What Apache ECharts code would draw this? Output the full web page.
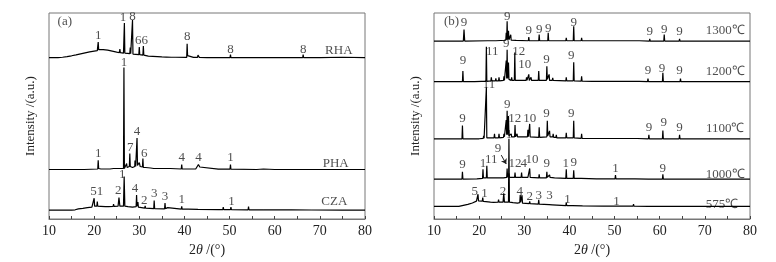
<!DOCTYPE html>
<html lang="en">
<head>
    <meta charset="UTF-8">
    <title>XRD</title>
    <script src="https://cdn.jsdelivr.net/npm/echarts@6/dist/echarts.min.js"></script>
    <style>
        body { margin: 0; background: #fff; }
    </style>
</head>
<body>
<div id="main" style="width: 776px;height: 262px"></div>
</body>

<script>
    // intensity values (arbitrary units, traces already offset)
    var xTicks = [10, 20, 30, 40, 50, 60, 70, 80];

    var rha = [[10,163],[10.3,163],[10.4,165],[10.5,163],[12,163],[13,163.3],[14,164],[15,164.8],[16,165.7],[17,166.7],[18,167.7],[19,168.7],[20,169.5],[20.7,170],[20.8,170.5],[20.9,178.7],[21.0,171],[21.2,170.7],[22,171],[23,170.5],[24,169.5],[25,168.5],[25.6,168],[25.7,171.5],[25.8,168],[26.5,167.5],[26.6,168],[26.7,198],[26.8,167.5],[27.2,167],[27.9,167],[28.0,173],[28.1,167],[28.4,167],[28.5,201],[28.6,166.5],[29,166],[29.9,166],[30.0,173.7],[30.1,166],[30.8,165.5],[30.9,174.7],[31.0,165.5],[31.5,165],[32,164.5],[33,164.3],[34,164],[35,163.7],[36,163.5],[37.1,163.3],[37.2,165],[37.3,163.3],[38,163.3],[40.5,163.2],[40.6,177],[40.7,165],[40.8,163.2],[42,163.2],[42.9,163.2],[43.0,165.5],[43.2,165],[43.3,163.2],[45,163],[50.1,163],[50.2,166],[50.3,163],[54.9,163],[55.0,165],[55.1,163],[60,163],[66.2,163],[66.3,166],[66.4,163],[70,163],[75,163.3],[80,163]];

    var pha = [[10,50],[12,50],[12.2,51],[12.4,50],[14,50],[17.8,50],[18,52],[18.2,50],[20.8,50.5],[20.9,59.3],[21.0,51],[21.3,50.5],[21.4,52],[21.5,50.5],[23,50.5],[23.3,52],[23.5,50.5],[24.3,51],[24.5,52.5],[24.7,51],[25.5,51],[25.7,53],[25.9,51],[26.5,51],[26.6,153],[26.7,51],[27.1,52],[27.2,56],[27.3,52],[27.8,53],[27.9,66],[28.0,53],[28.5,52],[29.0,53],[29.05,59],[29.2,53],[29.4,54],[29.5,81.7],[29.6,54],[29.8,53],[30.0,57],[30.2,53],[30.7,52.5],[30.8,61],[30.9,52],[31.4,52],[31.5,54],[31.6,51.5],[32.5,51.5],[33.2,51],[33.3,53],[33.4,51],[34.4,51],[34.5,52.5],[34.6,51],[36.3,51],[36.4,53],[36.5,51],[36.9,51],[37.0,53],[37.1,51],[39.3,50.5],[39.4,55],[39.5,50.5],[42.5,50.5],[42.8,52.5],[43.1,55],[43.4,52.5],[43.7,50.5],[47.5,50.3],[47.6,52],[47.7,50.3],[48.3,50.3],[48.4,52],[48.5,50.3],[50.1,50.3],[50.2,55],[50.3,50.3],[56,50],[57.5,50.5],[60,50],[60.1,51],[60.2,50],[64.5,50],[68,50],[68.2,51],[68.4,50],[75,50],[80,50]];

    var cza = [[10,9],[15,9],[15.8,9.3],[16.5,10.2],[17.5,10.8],[18.5,11.5],[19.5,12],[19.9,13],[20.0,21],[20.1,13],[20.6,13],[20.7,17.7],[20.8,13],[21.5,12.8],[22.5,12.5],[23.2,12.5],[23.3,14],[23.4,12.5],[24.2,12.8],[24.3,15],[24.4,12.8],[25.3,13],[25.5,21.7],[25.7,13],[26.5,13],[26.65,43],[26.8,13],[27.5,12.5],[28.5,12],[29.3,12.5],[29.4,24.3],[29.5,13],[29.6,13],[29.7,17],[29.8,12],[31.2,11],[31.3,13.3],[31.4,11],[33.2,10.5],[33.3,18.7],[33.4,10.5],[35.6,10.3],[35.7,16],[35.8,10.5],[36.2,10.5],[36.3,11.5],[36.4,10],[39.3,10],[39.4,12.7],[39.5,10],[40.8,10],[40.9,12],[41.0,10],[43,9.7],[43.1,10.5],[43.2,9.7],[47.5,9.5],[47.6,11],[47.7,9.5],[48.5,9.5],[48.6,12],[48.7,9.5],[49.3,9.5],[49.4,11.5],[49.5,9.5],[50.2,9.5],[50.3,12],[50.4,9.5],[54.1,9.3],[54.2,12.5],[54.3,9.3],[57.5,9.2],[57.6,10],[57.7,9.2],[62.5,9.2],[62.6,11],[62.7,9.2],[63.7,9.2],[63.8,11],[63.9,9.2],[68.1,9.1],[68.2,11],[68.3,9.1],[75,9],[80,9]];

    var t1300 = [[10,179.7],[16.5,179.7],[16.65,191.3],[16.8,179.7],[21.9,180],[22.0,182],[22.1,180],[23.7,180],[23.8,182],[23.9,180],[25.9,180.5],[26.0,188],[26.1,181],[26.2,199.7],[26.3,181],[26.5,190],[26.6,181],[26.9,181],[27.0,186],[27.1,180.5],[28.2,180.3],[28.3,182],[28.4,180.3],[30.9,180],[31.0,183.7],[31.1,180],[33.2,180],[33.3,186.3],[33.4,180],[35.2,180],[35.3,188],[35.4,180],[37.4,180],[37.5,182],[37.6,180],[39.2,180],[39.3,183],[39.4,180],[40.85,180],[40.95,194.7],[41.05,180],[42.6,180],[42.7,183],[42.8,180],[45.5,180],[45.6,181],[45.7,180],[48.5,180],[48.6,181],[48.7,180],[51.5,180],[51.6,181],[51.7,180],[55.5,180],[55.6,181],[55.7,180],[57.7,179.7],[57.8,182],[57.9,179.7],[60.9,179.7],[61.0,186.3],[61.1,179.7],[64.3,179.7],[64.4,182],[64.5,179.7],[70,179.7],[70.1,180.5],[70.2,179.7],[75,179.7],[75.1,180.5],[75.2,179.7],[80,179.7]];

    var t1200 = [[10,138.7],[13,138.7],[13.1,139.5],[13.2,138.7],[16.3,138.7],[16.4,149.3],[16.5,138.7],[19,138.7],[19.1,140],[19.2,138.7],[20.5,139],[20.6,141],[20.7,139],[21.5,139],[21.6,174],[21.7,139],[22.6,139.5],[22.7,143],[22.8,139.5],[23.6,139.5],[23.7,142],[23.8,139.5],[24.3,139.5],[24.4,143],[24.5,139.5],[25.4,140],[25.5,144],[25.6,140],[25.9,141],[26.0,160],[26.1,142],[26.2,171],[26.3,142],[26.5,158],[26.6,141],[27.1,140],[27.2,143],[27.3,140],[27.8,140],[27.9,168],[28.0,140],[28.3,140],[28.4,142],[28.5,140],[30.4,140],[30.5,143],[30.6,140],[30.9,140],[31.0,146],[31.1,140],[31.4,140],[31.5,143],[31.6,140],[33.1,140],[33.2,149.3],[33.3,140],[34.9,140],[35.0,154.3],[35.1,141],[35.4,141],[35.5,146],[35.6,140],[36.2,140],[36.3,142.5],[36.4,140],[39.2,139.5],[39.3,143],[39.4,139.5],[40.85,139.5],[40.95,158.3],[41.05,139.5],[42.6,139.2],[42.7,144],[42.8,139.2],[45,139],[45.1,140],[45.2,139],[48,139],[48.1,141],[48.2,139],[51,139],[51.1,140.5],[51.2,139],[52.3,139],[52.4,140.5],[52.5,139],[55.5,139],[55.6,140.5],[55.7,139],[57.3,138.7],[57.4,141.7],[57.5,138.7],[60.6,138.7],[60.7,147.7],[60.8,138.7],[64.5,138.7],[64.6,141.7],[64.7,138.7],[73.9,138.7],[74,140],[74.1,138.7],[74.4,138.7],[74.5,140],[74.6,138.7],[80,138.7]];

    var t1100 = [[10,81],[16.2,81],[16.3,94.3],[16.4,81],[20,81],[20.9,81.5],[21.0,84],[21.1,81.5],[21.5,82],[21.6,133],[21.7,82],[22.5,82],[22.6,84],[22.7,82],[23.3,82],[23.4,86],[23.5,82],[24.3,82],[24.4,86],[24.5,82],[25.4,82.5],[25.5,86],[25.6,83],[25.9,84],[26.0,100],[26.1,85],[26.2,109.3],[26.3,85],[26.5,104],[26.6,84],[27.0,83],[27.1,86],[27.2,83],[27.85,83],[27.95,95],[28.05,83],[28.3,83],[28.4,86],[28.5,83],[30.7,83],[30.8,90],[30.9,83],[31.1,83],[31.2,96],[31.3,83],[33.2,82.5],[33.3,92.7],[33.4,82.5],[35.0,83],[35.1,99.3],[35.2,84],[35.5,84],[35.6,89],[35.7,83],[36.3,83],[36.4,86],[36.5,82.5],[37,82.5],[37.1,85],[37.2,82],[39.2,82],[39.3,87],[39.4,82],[40.85,82],[40.95,99.3],[41.05,82],[42.6,81.5],[42.7,86],[42.8,81.5],[49,81.3],[49.1,83],[49.2,81.3],[51.5,81.3],[51.6,82.5],[51.7,81.3],[53.5,81.3],[53.6,83],[53.7,81.3],[55,81.3],[55.1,83],[55.2,81.3],[57.5,81],[57.6,85],[57.7,81],[60.6,81],[60.7,89.3],[60.8,81],[64.3,81],[64.4,85],[64.5,81],[71,81],[71.1,82],[71.2,81],[74.5,81],[74.6,82],[74.7,81],[80,81]];

    var t1000 = [[10,40.3],[16.2,40.3],[16.3,47.7],[16.4,40.3],[19.5,40.5],[20.75,41],[20.85,50.3],[20.95,41.5],[21.6,41.5],[21.7,53.7],[21.8,41.5],[22.5,41.5],[22.6,43],[22.7,41.5],[23.4,41.5],[23.5,43],[23.6,41.5],[24.4,41.5],[24.5,43.5],[24.6,41.5],[25.4,41.5],[25.5,43],[25.6,41.5],[26.1,42],[26.2,51],[26.3,42],[26.5,43],[26.6,46],[26.7,42],[27.85,42],[27.95,47],[28.05,42],[29.3,42],[29.4,47],[29.5,42],[30.8,42],[30.9,44],[31.0,42],[31.1,42],[31.2,51],[31.3,42],[33.2,41.5],[33.3,45],[33.4,41.5],[34.9,41.5],[35.0,47.7],[35.1,42],[35.5,42],[35.6,44.5],[35.7,42],[36.7,41.5],[36.8,43],[36.9,41.5],[39.2,41],[39.3,50.3],[39.4,41],[40.85,41],[40.95,49.3],[41.05,41],[42.6,41],[42.7,43],[42.8,41],[46,40.5],[46.1,41.5],[46.2,40.5],[50.1,40.5],[50.2,44.3],[50.3,40.5],[54.5,40.5],[54.6,41.5],[54.7,40.5],[57.5,40.3],[57.6,41.5],[57.7,40.3],[60.6,40.3],[60.7,45],[60.8,40.3],[64.3,40.3],[64.4,42],[64.5,40.3],[70,40.3],[80,40.3]];

    var t575 = [[10,12.7],[15.5,12.7],[16.5,13.8],[17.5,14.8],[18.5,16.2],[19.4,18],[19.65,18.5],[19.75,25],[19.85,18.3],[20.7,18],[20.8,21.7],[20.9,17.8],[21.5,17.5],[22.5,17],[23.2,16.8],[23.3,18.5],[23.4,16.8],[24.2,17],[24.3,19.5],[24.4,17],[25.3,17],[25.45,26],[25.6,17],[26.5,17],[26.6,81],[26.7,17],[27.5,16.5],[28.5,16],[29.0,16.5],[29.1,24.3],[29.2,17],[29.4,17],[29.5,24],[29.6,16],[31.1,15.5],[31.2,17.7],[31.3,15.5],[33.1,15],[33.2,19.3],[33.3,15],[35.5,14.5],[35.6,16],[35.7,14.5],[36.2,14.3],[36.3,15],[36.4,14],[39.2,13.5],[39.3,16.7],[39.4,13.5],[40.7,13.5],[40.8,15.5],[40.9,13.5],[42.9,13.2],[43.0,14.5],[43.1,13.2],[47.4,13],[47.5,14.5],[47.6,13],[48.4,13],[48.5,15],[48.6,13],[49.3,13],[49.4,14.5],[49.5,13],[50.15,13],[50.25,15],[50.35,13],[54.1,12.9],[54.2,15],[54.3,12.9],[57.5,12.8],[57.6,13.8],[57.7,12.8],[62.4,12.7],[62.5,14],[62.6,12.7],[63.7,12.7],[63.8,14],[63.9,12.7],[67.9,12.7],[68.0,14],[68.1,12.7],[80,12.7]];

    // peak labels: [2theta, level, text]
    var labelsA = [
        [13.5,199,'(a)'],
        [20.9,185,'1'],[26.4,203,'1'],[28.5,204,'8'],[30.5,180,'66'],[40.6,184,'8'],[50.2,171,'8'],[66.3,171,'8'],[74.2,170,'RHA'],
        [26.6,158,'1'],[20.9,66,'1'],[28.0,72,'7'],[29.5,88,'4'],[31.1,66,'6'],[39.4,62,'4'],[43.1,62,'4'],[50.2,62,'1'],[73.5,56,'PHA'],
        [20.6,28,'51'],[25.35,28.5,'2'],[26.25,45,'1'],[29.05,30.5,'4'],[31.1,18.5,'2'],[33.3,26,'3'],[35.7,23,'3'],[39.4,19.5,'1'],[50.4,18,'1'],[73.2,18,'CZA']
    ];
    var labelsB = [
        [13.9,199,'(b)'],
        [16.65,198,'9'],[26.2,204.5,'9'],[31.0,190,'9'],[33.3,191,'9'],[35.3,192,'9'],[40.95,198,'9'],[57.8,189,'9'],[61.0,191,'9'],[64.4,189,'9'],[74.5,190,'1300℃'],
        [16.4,159.5,'9'],[22.9,169,'11'],[26.0,177,'9'],[28.8,169,'12'],[30.1,156,'10'],[34.9,161,'9'],[40.4,165,'9'],[57.4,149.5,'9'],[60.5,152,'9'],[64.4,149.5,'9'],[74.5,148.5,'1200℃'],
        [16.3,101.5,'9'],[22.2,136,'11'],[26.2,116,'9'],[27.9,101,'12'],[31.2,101,'10'],[34.9,106,'9'],[40.4,106,'9'],[57.6,92,'9'],[60.9,97,'9'],[64.4,92,'9'],[74.5,91,'1100℃'],
        [16.3,54.5,'9'],[20.85,56,'1'],[22.7,59.5,'11'],[24.2,71,'9'],[27.95,56,'12'],[29.9,56,'4'],[31.7,59.5,'10'],[35.0,56,'9'],[39.2,56,'1'],[40.95,57,'9'],[50.2,51,'1'],[60.7,51,'9'],[74.5,45,'1000℃'],
        [19.0,28,'5'],[21.2,26,'1'],[25.3,28,'2'],[26.6,85,'1'],[29.0,28,'4'],[31.2,23,'2'],[33.2,24,'3'],[35.6,24,'3'],[39.55,19.5,'1'],[50.4,18,'1'],[73.8,14.5,'575℃']
    ];
    var arrowB = [[24.9, 64.5], [26.0, 55.5]];

    var font = "'Liberation Serif', 'Times New Roman', serif";
    var myChart = echarts.init(document.getElementById('main'));

    function xAxisFor(idx) {
        return {
            gridIndex: idx,
            type: 'value',
            min: xTicks[0],
            max: xTicks[xTicks.length - 1],
            interval: 10,
            name: '2{i|θ} /(°)',
            nameLocation: 'middle',
            nameGap: 24,
            nameTextStyle: {
                fontFamily: font, fontSize: 14, color: '#222',
                rich: {i: {fontFamily: font, fontSize: 14, fontStyle: 'italic', color: '#222'}}
            },
            axisLine: {lineStyle: {color: '#777', width: 1}},
            axisTick: {inside: true, length: 3, lineStyle: {color: '#444'}},
            minorTick: {show: true, splitNumber: 2, length: 3, lineStyle: {color: '#444'}},
            axisLabel: {fontFamily: font, fontSize: 14, color: '#222', margin: 5},
            splitLine: {show: false}
        };
    }

    function yAxisFor(idx) {
        return {
            gridIndex: idx,
            type: 'value',
            min: 0,
            max: 208,
            name: 'Intensity /(a.u.)',
            nameLocation: 'middle',
            nameGap: 12,
            nameTextStyle: {fontFamily: font, fontSize: 13, color: '#222'},
            axisLine: {show: false},
            axisTick: {show: false},
            axisLabel: {show: false},
            splitLine: {show: false}
        };
    }

    function trace(data, idx) {
        return {
            type: 'line',
            xAxisIndex: idx,
            yAxisIndex: idx,
            data: data,
            symbol: 'none',
            lineStyle: {color: '#000', width: 1.2},
            silent: true
        };
    }

    function labels(data, idx, arrow) {
        var s = {
            type: 'scatter',
            xAxisIndex: idx,
            yAxisIndex: idx,
            data: data,
            symbolSize: 1,
            itemStyle: {color: 'rgba(0,0,0,0)'},
            label: {
                show: true,
                position: 'inside',
                fontFamily: font,
                fontSize: 13,
                color: '#222',
                formatter: function (p) { return p.data[2]; }
            },
            labelLayout: {hideOverlap: false},
            silent: true
        };
        if (arrow) {
            s.markLine = {
                silent: true,
                symbol: ['none', 'arrow'],
                symbolSize: 5,
                label: {show: false},
                lineStyle: {color: '#222', type: 'solid', width: 1},
                data: [[{coord: arrow[0]}, {coord: arrow[1]}]]
            };
        }
        return s;
    }

    var option = {
        animation: false,
        backgroundColor: '#fff',
        grid: [
            {left: 49, top: 13, width: 316, height: 208, show: true, borderColor: '#777', borderWidth: 1},
            {left: 434, top: 13, width: 316, height: 208, show: true, borderColor: '#777', borderWidth: 1}
        ],
        xAxis: [xAxisFor(0), xAxisFor(1)],
        yAxis: [yAxisFor(0), yAxisFor(1)],
        series: [
            trace(rha, 0), trace(pha, 0), trace(cza, 0),
            trace(t1300, 1), trace(t1200, 1), trace(t1100, 1), trace(t1000, 1), trace(t575, 1),
            labels(labelsA, 0), labels(labelsB, 1, arrowB)
        ]
    };

    myChart.setOption(option);
</script>

</html>
